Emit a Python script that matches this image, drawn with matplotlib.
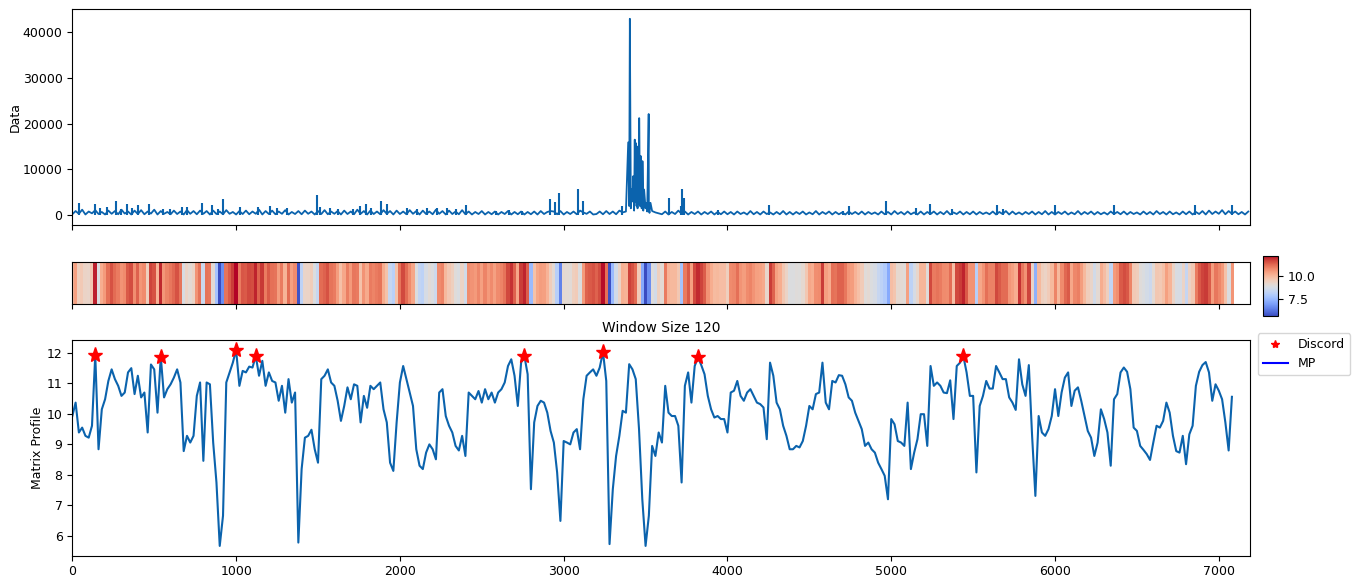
import numpy as np
import matplotlib
matplotlib.use("Agg")
import matplotlib.pyplot as plt
from matplotlib.lines import Line2D

# ---------------------------------------------------------------------------
# Raw series: background level sampled every 20 time steps
# ---------------------------------------------------------------------------
data_step = 20
data_values = [
    200, 900, 300, 1200, 150, 800, 400, 1100, 250, 700, 150, 1000, 300, 900, 200, 1200, 350, 800, 150, 1000,
    250, 1100, 200, 800, 350, 1200, 150, 900, 300, 700, 200, 1000, 250, 800, 150, 1100, 300, 900, 200, 1000,
    300, 900, 150, 1000, 250, 800, 200, 1100, 300, 700, 150, 900, 250, 1000, 200, 800, 300, 1200, 150, 900,
    250, 1000, 200, 800, 300, 1100, 150, 700, 250, 900, 200, 1000, 300, 800, 150, 900, 250, 1100, 200, 800,
    300, 900, 150, 1000, 250, 800, 200, 1200, 300, 900, 150, 1000, 250, 800, 200, 1100, 300, 900, 150, 1000,
    250, 800, 200, 1100, 300, 900, 150, 1000, 250, 800, 200, 1200, 300, 900, 150, 1000, 250, 800, 200, 1100,
    200, 800, 150, 700, 250, 900, 150, 700, 200, 800, 150, 700, 250, 900, 150, 700, 200, 800, 150, 700,
    200, 800, 150, 900, 250, 700, 900, 800, 200, 900, 150, 700, 250, 800, 200, 1000, 600, 300, 800, 150,
    250, 800, 200, 900, 250, 800, 200, 1000, 600, 800, 2000, 3000, 9000, 6000, 4000, 1500, 1200, 900, 600, 400,
    200, 800, 150, 700, 250, 1000, 300, 800, 150, 700, 250, 800, 150, 700, 250, 800, 150, 700, 200, 800,
    200, 700, 150, 800, 250, 600, 150, 900, 200, 700, 150, 800, 250, 600, 150, 700, 200, 900, 150, 700,
    150, 700, 250, 800, 150, 600, 200, 900, 150, 700, 250, 800, 150, 700, 200, 600, 150, 800, 250, 700,
    200, 800, 150, 700, 250, 600, 150, 800, 200, 700, 150, 900, 250, 700, 150, 800, 200, 600, 150, 800,
    150, 700, 250, 800, 150, 700, 200, 900, 150, 600, 250, 800, 150, 700, 200, 800, 150, 700, 250, 600,
    200, 800, 150, 700, 250, 900, 150, 800, 200, 600, 150, 700, 250, 800, 150, 700, 200, 900, 150, 700,
    150, 700, 250, 800, 150, 600, 200, 900, 150, 700, 250, 800, 150, 700, 200, 600, 150, 800, 250, 700,
    200, 800, 150, 700, 250, 600, 150, 800, 200, 700, 150, 900, 250, 700, 150, 800, 200, 600, 150, 800,
    200, 800, 150, 700, 250, 900, 150, 1000, 250, 800, 300, 1100, 200, 900, 300, 800, 200, 700, 150, 800,
]

# Short isolated peaks
spike_index = [43, 139, 169, 210, 264, 295, 332, 362, 403, 468, 556, 597, 672, 698, 790, 855, 891, 918,
               1024, 1136, 1207, 1247, 1309, 1492, 1512, 1573, 1624, 1716, 1756, 1793, 1821, 1884, 1919,
               2045, 2105, 2165, 2225, 2285, 2345, 2403, 2585, 2665, 2745, 2916, 2947, 2973, 3089, 3118,
               3354, 3641, 3715, 3721, 3735, 3945, 4256, 4705, 4745, 4970, 5153, 5236, 5368, 5643, 5680,
               5998, 6361, 6856, 7081]
spike_values = [2600, 2400, 1500, 1700, 3000, 1300, 2400, 1600, 2300, 2400, 1300, 1300, 1800, 1800, 2600,
                2200, 1300, 3500, 1800, 1800, 2000, 1500, 1500, 4300, 1800, 1500, 1300, 1300, 1900, 2400,
                1500, 3100, 2500, 1500, 1400, 1500, 1600, 1500, 1400, 2200, 1000, 1100, 1000, 3500, 2900,
                4900, 5800, 3000, 1900, 3800, 2000, 5700, 3800, 1100, 2200, 1000, 2000, 3000, 1500, 2400,
                1400, 2300, 1300, 2300, 2200, 2300, 2200]

# Finer readings inside the large burst
burst_index = [3394, 3404, 3410, 3414, 3424, 3430, 3434, 3437, 3442, 3445, 3448, 3451, 3454,
               3458, 3461, 3466, 3471, 3476, 3481, 3486, 3491, 3502, 3510, 3519, 3524, 3530]
burst_values = [15900, 42900, 1500, 5600, 8500, 1000, 16500, 3000, 15700, 2000, 15000, 1500, 13600,
                2500, 21200, 2000, 12900, 1500, 11800, 1000, 5600, 2700, 800, 22100, 500, 2700]

# ---------------------------------------------------------------------------
# Matrix profile (window 120), sampled every 20 time steps
# ---------------------------------------------------------------------------
mp_step = 20
mp_values = [
    9.93, 10.37, 9.39, 9.55, 9.28, 9.22, 9.61, 11.93, 8.84, 10.15,
    10.48, 11.08, 11.46, 11.14, 10.92, 10.59, 10.70, 11.36, 11.50, 10.65,
    11.25, 10.54, 10.70, 9.39, 11.62, 11.46, 10.04, 11.88, 10.54, 10.81,
    10.97, 11.19, 11.46, 11.03, 8.78, 9.28, 9.06, 9.28, 10.59, 11.03,
    8.46, 11.03, 10.97, 9.06, 7.75, 5.67, 6.66, 11.03, 11.36, 11.68,
    12.10, 10.92, 11.41, 11.36, 11.55, 11.52, 11.90, 11.25, 11.74, 10.92,
    11.36, 11.08, 11.03, 10.43, 10.92, 10.04, 11.14, 10.37, 10.70, 5.78,
    8.19, 9.22, 9.28, 9.48, 8.84, 8.40, 11.14, 11.25, 11.46, 11.03,
    10.92, 10.43, 9.77, 10.26, 10.87, 10.48, 10.97, 10.92,
    9.72, 10.59, 10.20, 10.92, 10.81, 10.92, 11.03, 10.15, 9.72, 8.40,
    8.13, 9.72, 11.03, 11.57, 11.14, 10.70, 10.26, 8.84, 8.30, 8.19,
    8.73, 9.00, 8.84, 8.51, 10.70, 10.81, 9.93, 9.61, 9.39, 8.95,
    8.80, 9.28, 8.62, 10.70, 10.59, 10.48, 10.75, 10.37, 10.81, 10.48,
    10.70, 10.37, 10.70, 10.81, 11.03, 11.57, 11.79, 11.25, 10.26, 11.68,
    11.90, 11.30, 7.53, 9.72, 10.26, 10.43, 10.37, 10.04, 9.44, 9.06,
    8.08, 6.49, 9.11, 9.06, 9.00, 9.39, 9.50, 8.84, 10.48, 11.25,
    11.36, 11.46, 11.25, 11.52, 12.03, 11.08, 5.73, 7.53, 8.62, 9.28,
    10.10, 10.04, 11.63, 11.46, 11.14, 9.50, 7.20, 5.67,
    6.66, 8.95, 8.62, 9.39, 9.06, 10.92, 10.04, 9.93, 9.93, 9.61,
    7.75, 10.92, 11.36, 10.37, 11.57, 11.85, 11.60, 11.30, 10.59, 10.15,
    9.88, 9.93, 9.83, 9.83, 9.39, 10.70, 10.76, 11.08, 10.59, 10.43,
    10.70, 10.81, 10.59, 10.37, 10.32, 10.21, 9.17, 11.68, 11.25, 10.37,
    10.15, 9.61, 9.28, 8.84, 8.84, 8.95, 8.90, 9.11, 9.61, 10.26,
    10.15, 10.65, 10.70, 11.68, 10.37, 10.15, 11.08, 11.03, 11.27, 11.25,
    10.97, 10.54, 10.43, 10.04, 9.77, 9.50, 8.95, 9.06, 8.84, 8.73,
    8.40, 8.19, 7.97, 7.20, 9.83, 9.66, 9.11, 9.06, 8.95, 10.37,
    8.19, 8.73, 9.17, 9.99, 9.99, 8.95, 11.57, 10.92,
    11.03, 10.92, 10.70, 10.68, 11.10, 9.83, 11.57, 11.68, 11.90, 11.36,
    10.59, 10.59, 8.08, 10.26, 10.59, 11.08, 10.83, 10.83, 11.57, 11.36,
    11.14, 11.14, 10.54, 10.37, 10.13, 11.79, 10.97, 10.59, 11.60, 9.28,
    7.31, 9.93, 9.39, 9.28, 9.50, 9.93, 10.81, 9.93, 10.70, 11.19,
    11.36, 10.26, 10.76, 10.87, 10.43, 9.93, 9.44, 9.22, 8.62, 9.06,
    10.15, 9.83, 9.39, 8.30, 10.48, 10.65, 11.36, 11.52, 11.38, 10.81,
    9.55, 9.44, 8.95, 8.82, 8.68, 8.49, 9.06, 9.61, 9.55, 9.77,
    10.37, 10.04, 9.28, 8.78, 8.73, 9.28, 8.35, 9.33, 9.61, 10.92,
    11.38, 11.60, 11.70, 11.36, 10.43, 10.97, 10.76, 10.48, 9.72, 8.80,
    10.56,
]

# Discord locations (time index)
discord_index = [140, 540, 1000, 1120, 2760, 3240, 3820, 5440]

window_size = 120
series_length = 7190

# ---------------------------------------------------------------------------
line_color = "#0b63ad"
plt.rcParams["font.size"] = 9.0
plt.rcParams["axes.titlesize"] = 10

data_t = np.arange(len(data_values)) * data_step
all_t = np.concatenate([data_t, np.asarray(burst_index)])
all_v = np.concatenate([np.asarray(data_values, float), np.asarray(burst_values, float)])
order = np.argsort(all_t, kind="stable")
all_t, all_v = all_t[order], all_v[order]

mp = np.asarray(mp_values, float)
mp_t = np.arange(len(mp)) * mp_step
disc_pos = np.searchsorted(mp_t, discord_index)

fig = plt.figure(figsize=(13.57, 5.79), dpi=100)
ax_data = fig.add_axes([0.0533, 0.6114, 0.8678, 0.3731])
ax_heat = fig.add_axes([0.0533, 0.4750, 0.8678, 0.0725], sharex=ax_data)
ax_mp = fig.add_axes([0.0533, 0.0402, 0.8678, 0.3725], sharex=ax_data)
cax = fig.add_axes([0.9307, 0.4542, 0.0111, 0.1036])

# Raw data
ax_data.plot(all_t, all_v, color=line_color, lw=1.3)
ax_data.vlines(spike_index, 0, spike_values, color=line_color, lw=1.5)
ax_data.set_ylabel("Data", labelpad=1.0)
ax_data.tick_params(labelbottom=False)

# Matrix profile as a colour strip
im = ax_heat.imshow(mp[np.newaxis, :], aspect="auto", cmap="coolwarm",
                    interpolation="nearest",
                    extent=(mp_t[0] - mp_step / 2, mp_t[-1] + mp_step / 2, 0, 1))
ax_heat.set_yticks([])
ax_heat.tick_params(labelbottom=False)
cb = fig.colorbar(im, cax=cax, ticks=[7.5, 10.0], format="%.1f")
cb.outline.set_linewidth(0.8)

# Matrix profile line with discords
ax_mp.plot(mp_t, mp, color=line_color, lw=1.5)
ax_mp.plot(mp_t[disc_pos], mp[disc_pos], "r*", ms=11)
ax_mp.set_ylabel("Matrix Profile", labelpad=2.0)
ax_mp.set_title(f"Window Size {window_size}")
handles = [Line2D([], [], marker="*", color="r", ls="none", label="Discord"),
           Line2D([], [], color="b", label="MP")]
ax_mp.legend(handles=handles, loc="upper left", bbox_to_anchor=(1.0068, 1.0325),
             borderaxespad=0.0)

ax_data.set_xlim(0, series_length)
ax_heat.set_ylim(0, 1)

fig.savefig("out.png", dpi=100)
